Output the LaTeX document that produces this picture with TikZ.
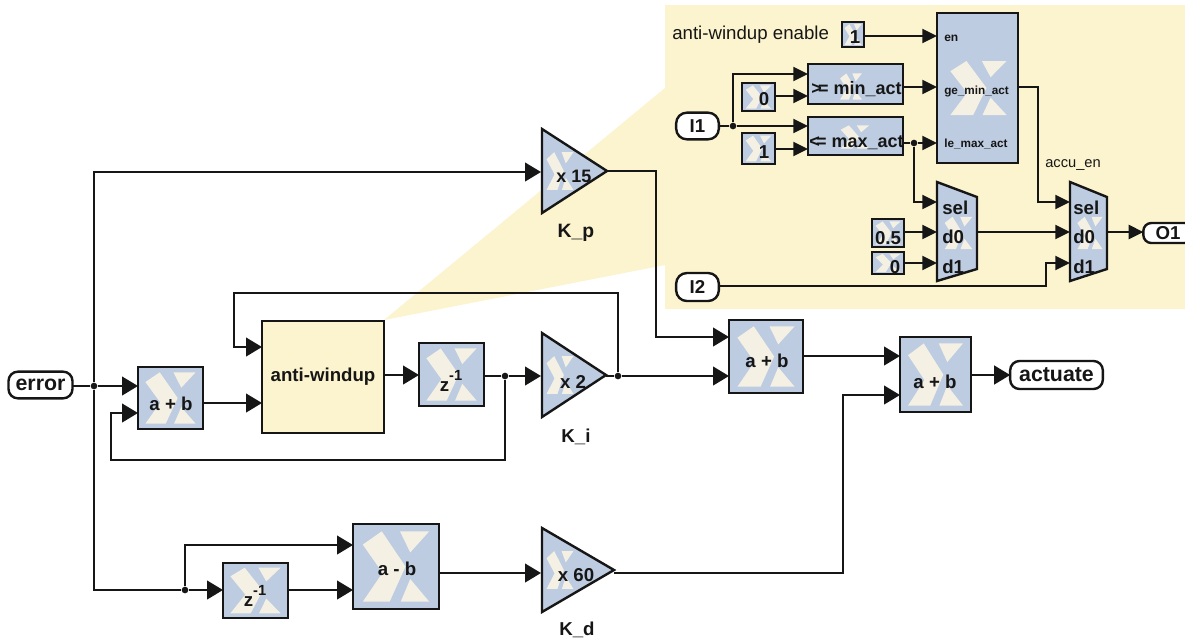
\documentclass[tikz,border=0pt]{standalone}
\usepackage{fontspec}
\setmainfont{Liberation Sans}
\usetikzlibrary{arrows.meta}
\definecolor{blockblue}{HTML}{BDCCE1}
\definecolor{logocream}{HTML}{F4F0E4}
\definecolor{panelyellow}{HTML}{FBF4CF}
\definecolor{inkline}{HTML}{161616}
\tikzset{
  wire/.style={draw=inkline,line width=1.6pt,-{Triangle[length=12pt,width=14pt]}},
  pwire/.style={draw=inkline,line width=1.6pt,-{Triangle[length=11pt,width=10.5pt]}},
  plainwire/.style={draw=inkline,line width=1.6pt},
  outline/.style={draw=inkline,line width=1.8pt,line join=miter},
  blockbox/.style={draw=inkline,line width=1.8pt,inner sep=0pt,outer sep=0pt},
  lbl/.style={inner sep=0pt,text=inkline,font=\fontsize{14}{16}\selectfont\bfseries},
  reglbl/.style={inner sep=0pt,text=inkline,font=\fontsize{14}{16}\selectfont},
  term/.style={rectangle,draw=inkline,line width=1.8pt,fill=white,rounded corners=7pt,inner sep=0pt,outer sep=0pt,
    font=\fontsize{16}{18}\selectfont\bfseries,text=inkline},
  dot/.style={circle,fill=inkline,inner sep=0pt,minimum size=5pt},
}
% logo in the px rectangle x1 y1 x2 y2
\newcommand\xlogo[4]{%
  \pgfmathsetmacro\lxa{#1}\pgfmathsetmacro\lya{#2}%
  \pgfmathsetmacro\dxx{(#3)-(#1)}\pgfmathsetmacro\dyy{(#4)-(#2)}%
  \begin{scope}[shift={(\lxa,\lya)},xscale=\dxx,yscale=\dyy]
    \fill[logocream] (0.08,0.22)--(0.32,0.05)--(0.62,0.5)--(0.42,0.95)--(0.08,0.95)--(0.33,0.58)--cycle;
    \fill[logocream] (0.55,0.05)--(0.92,0.05)--(0.68,0.32)--cycle;
    \fill[logocream] (0.68,0.66)--(0.92,0.95)--(0.56,0.95)--cycle;
  \end{scope}}
% block: name x1 y1 x2 y2
\newcommand\blk[5]{%
  \fill[blockblue] (#2,#3) rectangle (#4,#5);
  \xlogo{#2+0.04*(#4-#2)}{#3+0.04*(#5-#3)}{#4-0.04*(#4-#2)}{#5-0.04*(#5-#3)}
  \node[blockbox,minimum width={(#4-#2)*0.75pt},minimum height={(#5-#3)*0.75pt}] (#1) at ({(#2+#4)/2},{(#3+#5)/2}) {};}
% comparator etc with smaller logo: name x1 y1 x2 y2 lx1 ly1 lx2 ly2
\newcommand\blkl[9]{%
  \fill[blockblue] (#2,#3) rectangle (#4,#5);
  \xlogo{#6}{#7}{#8}{#9}
  \node[blockbox,minimum width={(#4-#2)*0.75pt},minimum height={(#5-#3)*0.75pt}] (#1) at ({(#2+#4)/2},{(#3+#5)/2}) {};}
% gain triangle: x1 x2 ytop ybot
\newcommand\gain[4]{%
  \fill[blockblue] (#1,#3)--(#2,{(#3+#4)/2})--(#1,#4)--cycle;
  \xlogo{#1+2}{(#3+#4)/2-21}{#1+34}{(#3+#4)/2+21}
  \draw[outline] (#1,#3)--(#2,{(#3+#4)/2})--(#1,#4)--cycle;}
% mux: x1 x2
\newcommand\muxb[2]{%
  \fill[blockblue] (#1,182)--(#2,197)--(#2,269)--(#1,281)--cycle;
  \xlogo{#1+5}{215}{#2-2}{251}
  \draw[outline] (#1,182)--(#2,197)--(#2,269)--(#1,281)--cycle;}
\begin{document}
\begin{tikzpicture}[x=0.75pt,y=-0.75pt]
\useasboundingbox (0,0) rectangle (1185,640);
\fill[white] (0,0) rectangle (1185,640);
% callout
\fill[panelyellow] (384,320)--(665,88)--(665,5)--(1185,5)--(1185,309)--(665,309)--(665,265)--cycle;

% --- main blocks
\node[term,minimum width=48pt,minimum height=20pt] (error) at (40.5,385) {error};
\blk{add1}{138}{367}{203}{429}
\node[lbl] (add1t) at (171,404) {a + b};
\node[blockbox,fill=panelyellow,minimum width=91.5pt,minimum height=84pt,lbl] (aw) at (323,377) {anti-windup};
\blk{zu}{419}{343}{484}{406}
\node[lbl] (zut) at (451,381) {z\raisebox{1.1ex}{\fontsize{11}{12}\selectfont -1}};
\blk{zl}{223}{563}{288}{618}
\node[lbl] (zlt) at (255,596) {z\raisebox{1.1ex}{\fontsize{11}{12}\selectfont -1}};
\blk{sub}{353}{524}{439}{609}
\node[lbl] (subt) at (397,569) {a - b};
\gain{542}{607}{129}{213}
\node[lbl,font=\fontsize{13.5}{15}\selectfont\bfseries] (kpt) at (574,176) {x 15};
\node[lbl,font=\fontsize{14.5}{16}\selectfont\bfseries] (kpl) at (576,233) {K\_p};
\gain{542}{606}{333}{417}
\node[lbl] (kit) at (573,382) {x 2};
\node[lbl] (kil) at (576,437) {K\_i};
\gain{542}{614}{528}{612}
\node[lbl] (kdt) at (576,575) {x 60};
\node[lbl] (kdl) at (577,630) {K\_d};
\blk{add2}{729}{320}{803}{393}
\node[lbl] (add2t) at (767,361) {a + b};
\blk{add3}{900}{337}{971}{412}
\node[lbl] (add3t) at (935,382) {a + b};
\node[term,minimum width=69.5pt,minimum height=21pt] (actuate) at (1056.5,375) {actuate};

% --- panel blocks
\node[reglbl,anchor=west] (awen) at (672,35) {anti-windup enable};
\blk{cen}{842}{22}{864}{47}
\node[lbl] (cent) at (855,37) {1};
\blkl{en}{937}{13}{1018}{163}{945}{58}{1012}{118}
\node[lbl,anchor=west,font=\fontsize{9}{10}\selectfont\bfseries] (ent) at (944,38) {en};
\node[lbl,anchor=west,font=\fontsize{8.8}{10}\selectfont\bfseries] (get) at (944,91) {ge\_min\_act};
\node[lbl,anchor=west,font=\fontsize{8.8}{10}\selectfont\bfseries] (let) at (944,144) {le\_max\_act};
\blkl{minb}{808}{64}{903}{104}{838}{72}{864}{101}
\node[lbl,font=\fontsize{13.5}{15}\selectfont\bfseries] (mint) at (856.5,89) {>\kern-.22em= min\_act};
\blk{c0}{742}{83}{775}{111}
\node[lbl] (c0t) at (764,99) {0};
\blkl{maxb}{808}{117}{903}{155}{838}{124}{872}{150}
\node[lbl,font=\fontsize{13.5}{15}\selectfont\bfseries] (maxt) at (856.5,143) {<\kern-.22em= max\_act};
\blk{c1}{742}{133}{775}{164}
\node[lbl] (c1t) at (764,152) {1};
\muxb{937}{977}
\node[lbl,anchor=west] (m1s) at (942,208) {sel};
\node[lbl,anchor=west] (m1a) at (942,237) {d0};
\node[lbl,anchor=west] (m1b) at (942,267) {d1};
\muxb{1070}{1107}
\node[lbl,anchor=west] (m2s) at (1073,208) {sel};
\node[lbl,anchor=west] (m2a) at (1073,237) {d0};
\node[lbl,anchor=west] (m2b) at (1073,267) {d1};
\blk{c05}{872}{219}{904}{247}
\node[lbl] (c05t) at (888,238) {0.5};
\blk{c00}{872}{252}{904}{274}
\node[lbl] (c00t) at (895,267) {0};
\node[reglbl,font=\fontsize{11}{13}\selectfont] (accu) at (1073,165) {accu\_en};
\node[term,rounded corners=8pt,minimum width=32pt,minimum height=20pt,font=\fontsize{14}{16}\selectfont\bfseries] (i1) at (697.5,126) {I1};
\node[term,rounded corners=8pt,minimum width=32pt,minimum height=21pt,font=\fontsize{14}{16}\selectfont\bfseries] (i2) at (697.5,287) {I2};
\node[term,rounded corners=6pt,minimum width=37pt,minimum height=15pt,font=\fontsize{14}{16}\selectfont\bfseries] (o1) at (1168,233) {O1};

% --- junctions
\node[dot] (j1) at (94,386) {};
\node[dot] (j2) at (505,376) {};
\node[dot] (j3) at (618,376) {};
\node[dot] (j4) at (185,590) {};
\node[dot] (j5) at (733,126) {};
\node[dot] (j6) at (914,143) {};

% --- connectors
\draw[plainwire] (error.east |- j1) -- (j1);
\draw[wire] (j1) -- (add1.west |- j1);
\draw[wire] (j1) -- (94,172) -- (541,172);
\draw[plainwire] (j1) -- (94,590) -- (j4);
\draw[wire] (j4) -- (zl.west |- j4);
\draw[wire] (j4) -- (185,545) -- (353,545);
\draw[wire] (zl.east |- j4) -- (353,590);
\draw[wire] (439,573) -- (541,573);
\draw[wire] (614,573) -- (843,573) -- (843,395) -- (900,395);
\draw[wire] (add1.east |- 0,403) -- (aw.west |- 0,403);
\draw[wire] (j3) -- (618,293) -- (234,293) -- (234,347) -- (aw.west |- 0,347);
\draw[wire] (aw.east |- 0,375) -- (zu.west |- 0,375);
\draw[plainwire] (zu.east |- j2) -- (j2);
\draw[wire] (j2) -- (541,376);
\draw[wire] (j2) -- (505,460) -- (111,460) -- (111,413) -- (add1.west |- 0,413);
\draw[plainwire] (606,376) -- (j3);
\draw[wire] (j3) -- (add2.west |- j3);
\draw[wire] (607,171) -- (656,171) -- (656,337) -- (add2.west |- 0,337);
\draw[wire] (add2.east |- 0,356) -- (add3.west |- 0,356);
\draw[wire] (add3.east |- 0,375) -- (actuate.west);

\draw[pwire] (cen.east |- 0,36) -- (en.west |- 0,36);
\draw[plainwire] (i1.east |- j5) -- (j5);
\draw[pwire] (j5) -- (733,74) -- (minb.west |- 0,74);
\draw[pwire] (j5) -- (maxb.west |- j5);
\draw[pwire] (c0.east |- 0,96) -- (minb.west |- 0,96);
\draw[pwire] (c1.east |- 0,149) -- (maxb.west |- 0,149);
\draw[pwire] (minb.east |- 0,87) -- (en.west |- 0,87);
\draw[plainwire] (maxb.east |- j6) -- (j6);
\draw[pwire] (j6) -- (en.west |- j6);
\draw[pwire] (j6) -- (914,202) -- (937,202);
\draw[pwire] (en.east |- 0,87) -- (1038,87) -- (1038,202) -- (1070,202);
\draw[pwire] (c05.east |- 0,232) -- (937,232);
\draw[pwire] (c00.east |- 0,263) -- (937,263);
\draw[pwire] (977,232) -- (1070,232);
\draw[pwire] (1107,232) -- (o1.west |- 0,232);
\draw[pwire] (i2.east |- 0,286) -- (1046,286) -- (1046,263) -- (1070,263);
\end{tikzpicture}
\end{document}
